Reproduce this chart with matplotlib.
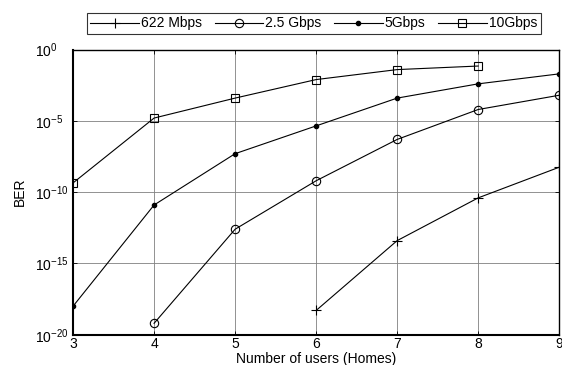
import matplotlib
matplotlib.use("Agg")
import matplotlib.pyplot as plt
import numpy as np

plt.rcParams['font.family'] = ['Liberation Sans', 'DejaVu Sans']
plt.rcParams['mathtext.fontset'] = 'custom'
plt.rcParams['mathtext.rm'] = 'Liberation Sans'

users_622 = [6, 7, 8, 9]
ber_622_exp = [-18.3, -13.4, -10.4, -8.25]
users_25 = [4, 5, 6, 7, 8, 9]
ber_25_exp = [-19.2, -12.6, -9.2, -6.3, -4.2, -3.2]
users_5 = [3, 4, 5, 6, 7, 8, 9]
ber_5_exp = [-18.0, -10.9, -7.3, -5.35, -3.4, -2.4, -1.7]
users_10 = [3, 4, 5, 6, 7, 8]
ber_10_exp = [-9.35, -4.8, -3.4, -2.1, -1.4, -1.15]

labels = ['622 Mbps', '2.5 Gbps', '5Gbps', '10Gbps']
xticks = [3, 4, 5, 6, 7, 8, 9]
yticks_exp = [0, -5, -10, -15, -20]

fig = plt.figure(figsize=(5.62, 3.65), dpi=100)
ax = fig.add_axes([0.130, 0.083, 0.865, 0.781])

ax.plot(users_622, 10.0**np.array(ber_622_exp), color='black', lw=0.8, marker='+', ms=7, mew=0.8, label=labels[0])
ax.plot(users_25, 10.0**np.array(ber_25_exp), color='black', lw=0.8, marker='o', ms=6, mfc='none', mew=0.8, label=labels[1])
ax.plot(users_5, 10.0**np.array(ber_5_exp), color='black', lw=0.8, marker='.', ms=6, label=labels[2])
ax.plot(users_10, 10.0**np.array(ber_10_exp), color='black', lw=0.8, marker='s', ms=6, mfc='none', mew=0.8, label=labels[3])

ax.set_yscale('log')
ax.set_xlim(3, 9)
ax.set_ylim(1e-20, 1e0)
ax.set_xticks(xticks)
ax.set_xticklabels([str(v) for v in xticks])
ax.set_yticks([10.0**e for e in yticks_exp])
ax.set_yticklabels([r'$10^{%d}$' % e for e in yticks_exp])
ax.yaxis.set_minor_locator(matplotlib.ticker.NullLocator())
ax.tick_params(direction='in', labelsize=10, length=3, top=True, right=True, width=0.6)
ax.tick_params(axis='x', pad=2)
ax.tick_params(axis='y', pad=27.4)
for t in ax.get_yticklabels():
    t.set_horizontalalignment('left')
ax.grid(True, color='#808080', lw=0.6)
for s in ax.spines.values():
    s.set_linewidth(1.0)
ax.spines['left'].set_linewidth(1.5)
ax.spines['bottom'].set_linewidth(1.5)

ax.set_xlabel('Number of users (Homes)', fontsize=10)
ax.xaxis.set_label_coords(0.5, -0.059)
ax.set_ylabel('BER', fontsize=10)
ax.yaxis.set_label_coords(-0.096, 0.5)

leg = fig.legend(loc='upper left', bbox_to_anchor=(87/562, 1 - 13/365),
                 ncol=4, fontsize=10, frameon=True, fancybox=False, edgecolor='black',
                 handlelength=3.5, handletextpad=0.15, columnspacing=0.9, borderaxespad=0,
                 borderpad=0.25)
leg.get_frame().set_linewidth(0.8)

fig.savefig('out.png', dpi=100)
